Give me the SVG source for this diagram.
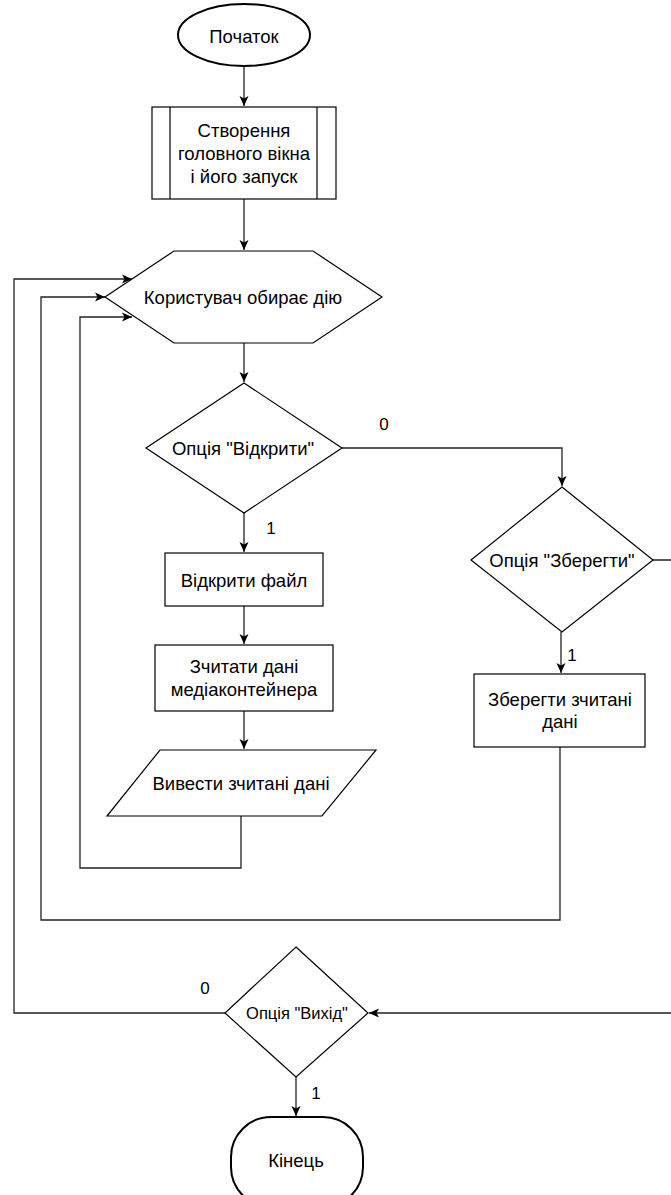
<svg xmlns="http://www.w3.org/2000/svg" width="671" height="1195" viewBox="0 0 671 1195">
<defs>
<marker id="arr" markerUnits="userSpaceOnUse" markerWidth="12" markerHeight="10" refX="10" refY="5" orient="auto">
<path d="M0,0.5 L10,5 L0,9.5 L2.5,5 Z" fill="#000"/>
</marker>
<style>
.n{fill:#fff;stroke:#000;stroke-width:1.2}
.t{fill:#fff;stroke:#000;stroke-width:2}
.c{fill:none;stroke:#222;stroke-width:1.3}
.a{marker-end:url(#arr)}
text{font-family:"Liberation Sans",Arial,sans-serif;font-size:18.5px;fill:#000;text-anchor:middle;dominant-baseline:central}
.lbl{font-size:17px}
</style>
</defs>
<rect width="671" height="1195" fill="#fff"/>
<g id="connectors">
<path class="c a" d="M244,67 V106"/>
<path class="c a" d="M244,199 V250"/>
<path class="c a" d="M244,343 V382"/>
<path class="c a" d="M244,513 V552"/>
<path class="c a" d="M244,606 V644"/>
<path class="c a" d="M244,711 V749"/>
<path class="c a" d="M342,448 H562 V486"/>
<path class="c a" d="M561,632 V673"/>
<path class="c a" d="M241,816 V868 H80 V317 H132"/>
<path class="c a" d="M560,747 V920 H41 V297 H105"/>
<path class="c a" d="M225,1013 H14 V279 H132"/>
<path class="c a" d="M653,560 H690 V1013 H369"/>
<path class="c a" d="M296,1077 V1116"/>
<text class="lbl" x="384" y="424">0</text>
<text class="lbl" x="271" y="528">1</text>
<text class="lbl" x="572" y="655">1</text>
<text class="lbl" x="205" y="988">0</text>
<text class="lbl" x="316" y="1093">1</text>
</g>
<g id="start">
<ellipse class="t" cx="244" cy="35" rx="66" ry="31"/>
<text x="244" y="36">Початок</text>
</g>
<g id="create">
<rect class="n" x="152" y="107" width="184" height="92"/>
<line class="n" x1="170" y1="107" x2="170" y2="199"/>
<line class="n" x1="317" y1="107" x2="317" y2="199"/>
<text x="244" y="130">Створення</text>
<text x="244" y="153">головного вікна</text>
<text x="244" y="176">і його запуск</text>
</g>
<g id="choose">
<polygon class="n" points="105,297 174,251 313,251 382,297 313,343 174,343"/>
<text x="243" y="297">Користувач обирає дію</text>
</g>
<g id="open-decision">
<polygon class="n" points="244,383 342,448 244,513 146,448"/>
<text x="243" y="448">Опція "Відкрити"</text>
</g>
<g id="open-file">
<rect class="n" x="165" y="553" width="158" height="53"/>
<text x="244" y="580">Відкрити файл</text>
</g>
<g id="read-data">
<rect class="n" x="155" y="645" width="178" height="66"/>
<text x="244" y="666">Зчитати дані</text>
<text x="244" y="689">медіаконтейнера</text>
</g>
<g id="output-data">
<polygon class="n" points="160,750 376,750 322,816 107,816"/>
<text x="241" y="783">Вивести зчитані дані</text>
</g>
<g id="save-decision">
<polygon class="n" points="562,487 653,560 562,632 471,560"/>
<text x="562" y="560">Опція "Зберегти"</text>
</g>
<g id="save-data">
<rect class="n" x="474" y="674" width="171" height="73"/>
<text x="560" y="699">Зберегти зчитані</text>
<text x="560" y="721">дані</text>
</g>
<g id="exit-decision">
<polygon class="n" points="296,947 368,1013 296,1077 225,1013"/>
<text x="297" y="1013" style="font-size:16.5px">Опція "Вихід"</text>
</g>
<g id="end">
<rect class="t" x="231" y="1117" width="132" height="90" rx="40" ry="40"/>
<text x="296" y="1160">Кінець</text>
</g>
</svg>
